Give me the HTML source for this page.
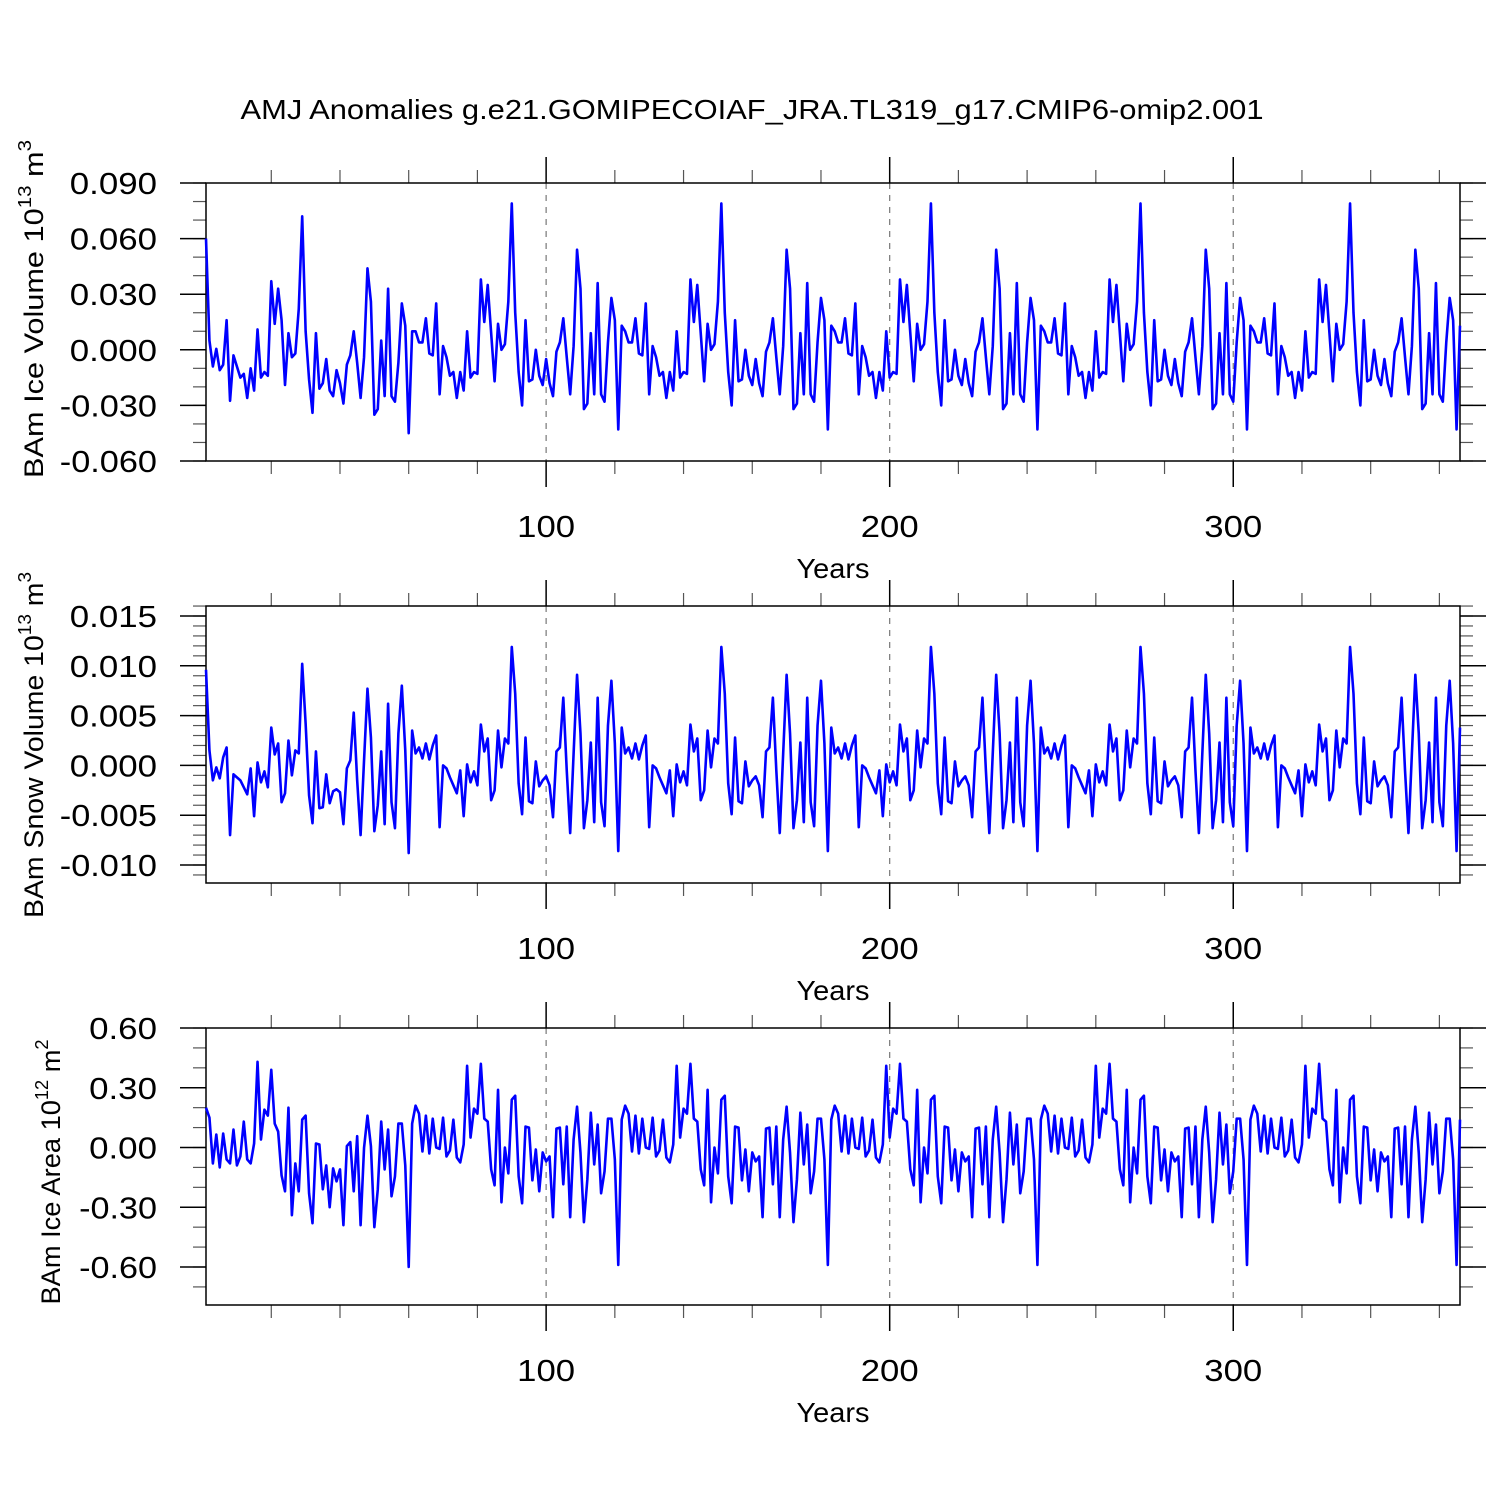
<!DOCTYPE html>
<html>
<head>
<meta charset="utf-8">
<style>
  html, body { margin: 0; padding: 0; background: #fff; }
  svg { display: block; font-family: "Liberation Sans", Arial, sans-serif; }
</style>
</head>
<body>
<svg id="chart" width="1500" height="1500" viewBox="0 0 1500 1500" xmlns="http://www.w3.org/2000/svg">
  <rect x="0" y="0" width="1500" height="1500" fill="#fff"/>
  <text x="752" y="119" font-size="28" textLength="1023" lengthAdjust="spacingAndGlyphs" text-anchor="middle" fill="#000">AMJ Anomalies g.e21.GOMIPECOIAF_JRA.TL319_g17.CMIP6-omip2.001</text>
</svg>
<script>
// ---- data (years 1..366) ----
const years = [];
for (let i = 1; i <= 366; i++) years.push(i);

// Ice volume anomalies, units of 0.001 (x10^13 m^3)
const iceVolume = [
60,5,-9,0.5,-11,-8,16,-27.5,-3,-9,-15,-13,-26,-10,-22,11,-15,-12,-14,37,14,33,16,-19,9,-4,-2,22,72,10,-16,-34,9,-21,-18,-5,-22,-25,-11,-18,-29,-8,-3,10,-7,-26,-4,44,26,-35,-32,5,-25,33,-25,-28,-7,25,13,-45,10,
10,4,4,17,-2,-3,25,-24,2,-4,-14,-12,-26,-12,-22,10,-15,-12,-13,38,15,35,9,-17,14,0,3,26,79,20,-12,-30,16,-17,-16,0,-14,-19,-5,-18,-25,-1,4,17,-4,-24,2,54,33,-32,-29,9,-24,36,-24,-28,4,28,16,-43,13,
10,4,4,17,-2,-3,25,-24,2,-4,-14,-12,-26,-12,-22,10,-15,-12,-13,38,15,35,9,-17,14,0,3,26,79,20,-12,-30,16,-17,-16,0,-14,-19,-5,-18,-25,-1,4,17,-4,-24,2,54,33,-32,-29,9,-24,36,-24,-28,4,28,16,-43,13,
10,4,4,17,-2,-3,25,-24,2,-4,-14,-12,-26,-12,-22,10,-15,-12,-13,38,15,35,9,-17,14,0,3,26,79,20,-12,-30,16,-17,-16,0,-14,-19,-5,-18,-25,-1,4,17,-4,-24,2,54,33,-32,-29,9,-24,36,-24,-28,4,28,16,-43,13,
10,4,4,17,-2,-3,25,-24,2,-4,-14,-12,-26,-12,-22,10,-15,-12,-13,38,15,35,9,-17,14,0,3,26,79,20,-12,-30,16,-17,-16,0,-14,-19,-5,-18,-25,-1,4,17,-4,-24,2,54,33,-32,-29,9,-24,36,-24,-28,4,28,16,-43,13,
10,4,4,17,-2,-3,25,-24,2,-4,-14,-12,-26,-12,-22,10,-15,-12,-13,38,15,35,9,-17,14,0,3,26,79,20,-12,-30,16,-17,-16,0,-14,-19,-5,-18,-25,-1,4,17,-4,-24,2,54,33,-32,-29,9,-24,36,-24,-28,4,28,16,-43,13
];

// Snow volume anomalies, units of 0.001 (x10^13 m^3)
const snowVolume = [
9.6,1.5,-1.5,-0.2,-1.3,0.8,1.8,-7,-0.9,-1.2,-1.5,-2.2,-2.9,-0.3,-5.1,0.3,-1.7,-0.6,-2.2,3.8,1.1,2.2,-3.7,-2.8,2.5,-1,1.5,1.2,10.2,4.2,-3,-5.8,1.4,-4.3,-4.2,-0.9,-3.8,-2.6,-2.4,-2.7,-5.9,-0.3,0.5,5.3,-1.5,-7,0.5,7.7,2.8,-6.6,-4,1.4,-5.9,6.2,-3.7,-6.3,3.2,8,1.5,-8.8,3.5,
1.2,1.8,0.7,2.2,0.6,2,3,-6.2,0,-0.3,-1.2,-2,-2.8,-0.5,-5.1,0.1,-1.7,-0.6,-2,4.1,1.4,2.7,-3.5,-2.5,3.5,-0.2,2.7,2.2,11.9,7.2,-1.8,-4.9,2.8,-3.6,-3.8,0.4,-2.1,-1.5,-1.1,-2,-5.2,1.4,1.8,6.8,-0.5,-6.8,1.2,9.1,3.2,-6.3,-3.5,2.3,-5.7,6.8,-3.7,-6.1,4,8.5,2.2,-8.6,3.8,
1.2,1.8,0.7,2.2,0.6,2,3,-6.2,0,-0.3,-1.2,-2,-2.8,-0.5,-5.1,0.1,-1.7,-0.6,-2,4.1,1.4,2.7,-3.5,-2.5,3.5,-0.2,2.7,2.2,11.9,7.2,-1.8,-4.9,2.8,-3.6,-3.8,0.4,-2.1,-1.5,-1.1,-2,-5.2,1.4,1.8,6.8,-0.5,-6.8,1.2,9.1,3.2,-6.3,-3.5,2.3,-5.7,6.8,-3.7,-6.1,4,8.5,2.2,-8.6,3.8,
1.2,1.8,0.7,2.2,0.6,2,3,-6.2,0,-0.3,-1.2,-2,-2.8,-0.5,-5.1,0.1,-1.7,-0.6,-2,4.1,1.4,2.7,-3.5,-2.5,3.5,-0.2,2.7,2.2,11.9,7.2,-1.8,-4.9,2.8,-3.6,-3.8,0.4,-2.1,-1.5,-1.1,-2,-5.2,1.4,1.8,6.8,-0.5,-6.8,1.2,9.1,3.2,-6.3,-3.5,2.3,-5.7,6.8,-3.7,-6.1,4,8.5,2.2,-8.6,3.8,
1.2,1.8,0.7,2.2,0.6,2,3,-6.2,0,-0.3,-1.2,-2,-2.8,-0.5,-5.1,0.1,-1.7,-0.6,-2,4.1,1.4,2.7,-3.5,-2.5,3.5,-0.2,2.7,2.2,11.9,7.2,-1.8,-4.9,2.8,-3.6,-3.8,0.4,-2.1,-1.5,-1.1,-2,-5.2,1.4,1.8,6.8,-0.5,-6.8,1.2,9.1,3.2,-6.3,-3.5,2.3,-5.7,6.8,-3.7,-6.1,4,8.5,2.2,-8.6,3.8,
1.2,1.8,0.7,2.2,0.6,2,3,-6.2,0,-0.3,-1.2,-2,-2.8,-0.5,-5.1,0.1,-1.7,-0.6,-2,4.1,1.4,2.7,-3.5,-2.5,3.5,-0.2,2.7,2.2,11.9,7.2,-1.8,-4.9,2.8,-3.6,-3.8,0.4,-2.1,-1.5,-1.1,-2,-5.2,1.4,1.8,6.8,-0.5,-6.8,1.2,9.1,3.2,-6.3,-3.5,2.3,-5.7,6.8,-3.7,-6.1,4,8.5,2.2,-8.6,3.8
];

// Ice area anomalies (x10^12 m^2)
const iceArea = [
0.20,0.15,-0.08,0.065,-0.10,0.07,-0.06,-0.08,0.09,-0.09,-0.045,0.13,-0.06,-0.08,0.02,0.43,0.04,0.19,0.16,0.39,0.12,0.08,-0.14,-0.22,0.20,-0.34,-0.08,-0.22,0.14,0.16,-0.23,-0.38,0.02,0.015,-0.21,-0.09,-0.30,-0.105,-0.17,-0.11,-0.39,0.007,0.027,-0.22,0.057,-0.39,-0.002,0.16,0.007,-0.40,-0.21,0.13,-0.11,0.09,-0.245,-0.145,0.12,0.12,-0.09,-0.60,0.12,
0.21,0.17,-0.02,0.16,-0.03,0.145,0,-0.007,0.15,-0.045,-0.015,0.14,-0.05,-0.075,0.015,0.41,0.05,0.195,0.17,0.42,0.145,0.13,-0.11,-0.19,0.29,-0.275,0,-0.13,0.24,0.26,-0.145,-0.28,0.105,0.1,-0.165,-0.01,-0.22,-0.025,-0.07,-0.045,-0.35,0.095,0.1,-0.185,0.105,-0.35,0.04,0.205,-0.027,-0.375,-0.16,0.175,-0.085,0.115,-0.23,-0.12,0.145,0.145,-0.06,-0.59,0.14,
0.21,0.17,-0.02,0.16,-0.03,0.145,0,-0.007,0.15,-0.045,-0.015,0.14,-0.05,-0.075,0.015,0.41,0.05,0.195,0.17,0.42,0.145,0.13,-0.11,-0.19,0.29,-0.275,0,-0.13,0.24,0.26,-0.145,-0.28,0.105,0.1,-0.165,-0.01,-0.22,-0.025,-0.07,-0.045,-0.35,0.095,0.1,-0.185,0.105,-0.35,0.04,0.205,-0.027,-0.375,-0.16,0.175,-0.085,0.115,-0.23,-0.12,0.145,0.145,-0.06,-0.59,0.14,
0.21,0.17,-0.02,0.16,-0.03,0.145,0,-0.007,0.15,-0.045,-0.015,0.14,-0.05,-0.075,0.015,0.41,0.05,0.195,0.17,0.42,0.145,0.13,-0.11,-0.19,0.29,-0.275,0,-0.13,0.24,0.26,-0.145,-0.28,0.105,0.1,-0.165,-0.01,-0.22,-0.025,-0.07,-0.045,-0.35,0.095,0.1,-0.185,0.105,-0.35,0.04,0.205,-0.027,-0.375,-0.16,0.175,-0.085,0.115,-0.23,-0.12,0.145,0.145,-0.06,-0.59,0.14,
0.21,0.17,-0.02,0.16,-0.03,0.145,0,-0.007,0.15,-0.045,-0.015,0.14,-0.05,-0.075,0.015,0.41,0.05,0.195,0.17,0.42,0.145,0.13,-0.11,-0.19,0.29,-0.275,0,-0.13,0.24,0.26,-0.145,-0.28,0.105,0.1,-0.165,-0.01,-0.22,-0.025,-0.07,-0.045,-0.35,0.095,0.1,-0.185,0.105,-0.35,0.04,0.205,-0.027,-0.375,-0.16,0.175,-0.085,0.115,-0.23,-0.12,0.145,0.145,-0.06,-0.59,0.14,
0.21,0.17,-0.02,0.16,-0.03,0.145,0,-0.007,0.15,-0.045,-0.015,0.14,-0.05,-0.075,0.015,0.41,0.05,0.195,0.17,0.42,0.145,0.13,-0.11,-0.19,0.29,-0.275,0,-0.13,0.24,0.26,-0.145,-0.28,0.105,0.1,-0.165,-0.01,-0.22,-0.025,-0.07,-0.045,-0.35,0.095,0.1,-0.185,0.105,-0.35,0.04,0.205,-0.027,-0.375,-0.16,0.175,-0.085,0.115,-0.23,-0.12,0.145,0.145,-0.06,-0.59,0.14
];

const xTickLabels = ["100", "200", "300"];
const yTicksVolume = ["-0.060", "-0.030", "0.000", "0.030", "0.060", "0.090"];
const yTicksSnow = ["-0.010", "-0.005", "0.000", "0.005", "0.010", "0.015"];
const yTicksArea = ["-0.60", "-0.30", "0.00", "0.30", "0.60"];

// ---- drawing ----
const NS = "http://www.w3.org/2000/svg";
const svg = document.getElementById("chart");
const X0 = 206, X1 = 1460, YR0 = 1, YR1 = 366;
function xScale(yr) { return X0 + (yr - YR0) * (X1 - X0) / (YR1 - YR0); }
function labelWidth(s) {
  let w = 0;
  for (const c of s) w += (c >= "0" && c <= "9") ? 19.3 : 10;
  return w;
}

function mk(tag, attrs, parent) {
  const e = document.createElementNS(NS, tag);
  for (const k in attrs) e.setAttribute(k, attrs[k]);
  (parent || svg).appendChild(e);
  return e;
}

const panels = [
  { key: "ice-volume", top: 183, bottom: 461, anchorV: 0.090, anchorY: 183, pxPer: 278 / 0.150,
    values: iceVolume, mult: 0.001, labels: yTicksVolume, minorStep: 0.010,
    title: ["BAm Ice Volume 10", "13", " m", "3"], titleX: 43, titleY: 309, titleLen: 338 },
  { key: "snow-volume", top: 606, bottom: 883, anchorV: 0.015, anchorY: 616, pxPer: 249 / 0.025,
    values: snowVolume, mult: 0.001, labels: yTicksSnow, minorStep: 0.001,
    title: ["BAm Snow Volume 10", "13", " m", "3"], titleX: 43, titleY: 745, titleLen: 346 },
  { key: "ice-area", top: 1028, bottom: 1305, anchorV: 0.60, anchorY: 1028, pxPer: 239 / 1.2,
    values: iceArea, mult: 1, labels: yTicksArea, minorStep: 0.1,
    title: ["BAm Ice Area 10", "12", " m", "2"], titleX: 60, titleY: 1172, titleLen: 265 }
];

panels.forEach(function (p) {
  const g = mk("g", {});
  
  
  const yScale = function (v) { return p.anchorY + (p.anchorV - v) * p.pxPer; };
  const vAtTop = p.anchorV + (p.anchorY - p.top) / p.pxPer;
  const vAtBot = p.anchorV - (p.bottom - p.anchorY) / p.pxPer;

  xTickLabels.forEach(function (lab) {
    const x = xScale(+lab);
    const gl = mk("line", { x1: x, x2: x, y1: p.top, y2: p.bottom, stroke: "#777", "stroke-width": 1.2, "stroke-dasharray": "6,6" }, g);
    
    
  });

  for (let yr = 20; yr <= 360; yr += 20) {
    if (yr % 100 === 0) continue;
    const x = xScale(yr);
    mk("line", { x1: x, x2: x, y1: p.top - 13, y2: p.top, stroke: "#555", "stroke-width": 1.2 }, g);
    mk("line", { x1: x, x2: x, y1: p.bottom, y2: p.bottom + 13, stroke: "#555", "stroke-width": 1.2 }, g);
  }
  xTickLabels.forEach(function (lab) {
    const x = xScale(+lab);
    mk("line", { x1: x, x2: x, y1: p.top - 26, y2: p.top, stroke: "#000", "stroke-width": 1.5 }, g);
    mk("line", { x1: x, x2: x, y1: p.bottom, y2: p.bottom + 26, stroke: "#000", "stroke-width": 1.5 }, g);
    const t = mk("text", { x: x, y: p.bottom + 76, "font-size": 31, "text-anchor": "middle", fill: "#000",
      textLength: labelWidth(lab), lengthAdjust: "spacingAndGlyphs" }, g);
    
    
    t.textContent = lab;
  });
  const xt = mk("text", { x: 833, y: p.bottom + 117, "font-size": 28, "text-anchor": "middle", fill: "#000",
    textLength: 73, lengthAdjust: "spacingAndGlyphs" }, g);
  
  
  xt.textContent = "Years";

  const nStart = Math.ceil(vAtBot / p.minorStep - 1e-6), nEnd = Math.floor(vAtTop / p.minorStep + 1e-6);
  for (let n = nStart; n <= nEnd; n++) {
    const y = yScale(n * p.minorStep);
    mk("line", { x1: X0 - 13, x2: X0, y1: y, y2: y, stroke: "#555", "stroke-width": 1.2 }, g);
    mk("line", { x1: X1, x2: X1 + 13, y1: y, y2: y, stroke: "#555", "stroke-width": 1.2 }, g);
  }
  p.labels.forEach(function (lab) {
    const y = yScale(parseFloat(lab));
    mk("line", { x1: X0 - 26, x2: X0, y1: y, y2: y, stroke: "#000", "stroke-width": 1.5 }, g);
    mk("line", { x1: X1, x2: X1 + 26, y1: y, y2: y, stroke: "#000", "stroke-width": 1.5 }, g);
    const t = mk("text", { x: 157, y: y + 11, "font-size": 31, "text-anchor": "end", fill: "#000",
      textLength: labelWidth(lab), lengthAdjust: "spacingAndGlyphs" }, g);
    
    
    t.textContent = lab;
  });

  const fr = mk("rect", { x: X0, y: p.top, width: X1 - X0, height: p.bottom - p.top, fill: "none", stroke: "#000", "stroke-width": 1.5 }, g);
  
  

  const yt = mk("text", { x: 0, y: 0, "font-size": 27, "text-anchor": "middle", fill: "#000",
    textLength: p.titleLen, lengthAdjust: "spacingAndGlyphs",
    transform: "translate(" + p.titleX + "," + p.titleY + ") rotate(-90)" }, g);
  
  
  const s1 = mk("tspan", {}, yt); s1.textContent = p.title[0];
  const s2 = mk("tspan", { dy: -12, "font-size": 18 }, yt); s2.textContent = p.title[1];
  const s3 = mk("tspan", { dy: 12 }, yt); s3.textContent = p.title[2];
  const s4 = mk("tspan", { dy: -12, "font-size": 18 }, yt); s4.textContent = p.title[3];

  let d = "";
  p.values.forEach(function (v, i) {
    d += (i ? "L" : "M") + xScale(years[i]).toFixed(2) + "," + yScale(v * p.mult).toFixed(2);
  });
  const path = mk("path", { d: d, fill: "none", stroke: "#0000ff", "stroke-width": 2.6, "stroke-linejoin": "round" }, g);
  
  
});
</script>
</body>
</html>
